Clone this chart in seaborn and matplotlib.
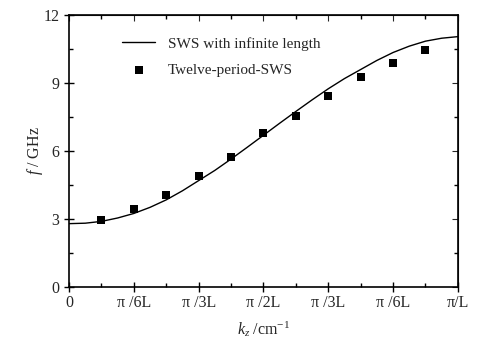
import numpy as np
import matplotlib
matplotlib.use("Agg")
import matplotlib.pyplot as plt
import seaborn as sns
from matplotlib.ticker import MultipleLocator

# dispersion curve, infinite SWS (read at steps of pi/24 L)
curve_k = np.arange(25) / 24.0
curve_f = [2.80, 2.82, 2.90, 3.05, 3.25, 3.52, 3.85, 4.25, 4.70, 5.15,
           5.65, 6.17, 6.70, 7.23, 7.75, 8.26, 8.75, 9.20, 9.60, 10.00,
           10.35, 10.63, 10.85, 10.98, 11.05]

# twelve-period SWS measured points (steps of pi/12 L)
pts_k = np.arange(1, 12) / 12.0
pts_f = [2.95, 3.45, 4.08, 4.92, 5.75, 6.82, 7.55, 8.45, 9.28, 9.88, 10.45]

xtick_pos = np.arange(7) / 6.0
xtick_labels = ["0", "π /6L", "π /3L", "π /2L", "π /3L", "π /6L", "π/L"]

sns.set_style("ticks")
plt.rcParams["font.family"] = ["Liberation Serif", "DejaVu Serif"]
plt.rcParams["mathtext.fontset"] = "custom"
plt.rcParams["mathtext.rm"] = "Liberation Serif"
plt.rcParams["mathtext.it"] = "Liberation Serif:italic"

fig = plt.figure(figsize=(4.83, 3.51), dpi=100)
ax = fig.add_axes([0.143, 0.182, 0.805, 0.775])

sns.lineplot(x=curve_k, y=curve_f, ax=ax, color="black", lw=1.0,
             label="SWS with infinite length")
sns.scatterplot(x=pts_k, y=pts_f, ax=ax, color="black", marker="s", s=36,
                edgecolor="black", linewidth=0, label="Twelve-period-SWS")

ax.set_xlim(0, 1)
ax.set_ylim(0, 12)
ax.set_xticks(xtick_pos)
ax.set_xticklabels(xtick_labels)
ax.set_yticks([0, 3, 6, 9, 12])
ax.xaxis.set_minor_locator(MultipleLocator(1 / 12.0))
ax.yaxis.set_minor_locator(MultipleLocator(1.5))
ax.tick_params(which="both", direction="in", top=True, right=True,
               labelsize=11.5, width=1, color="black")
ax.tick_params(which="major", direction="inout", length=7,
               top=False, right=False)
ax.tick_params(which="minor", length=3)
ax.tick_params(axis="x", pad=2)
for s in ax.spines.values():
    s.set_linewidth(1.2)
    s.set_color("black")

# inward major ticks on top/right too
ax2 = ax.secondary_xaxis("top")
ax2.set_xticks(xtick_pos)
ax2.tick_params(direction="in", length=4, labeltop=False)
ax3 = ax.secondary_yaxis("right")
ax3.set_yticks([0, 3, 6, 9, 12])
ax3.tick_params(direction="in", length=4, labelright=False)

ax.set_xlabel(r"$k_z$ /cm$^{-1}$", fontsize=11.5, labelpad=6)
ax.set_ylabel(r"$f$ / GHz", fontsize=11.5, labelpad=-1)

leg = ax.legend(loc="upper left", bbox_to_anchor=(0.1, 0.97), frameon=False,
                fontsize=11, handlelength=2.2, labelspacing=0.8,
                handletextpad=0.8)

fig.savefig("out.png", dpi=100)
